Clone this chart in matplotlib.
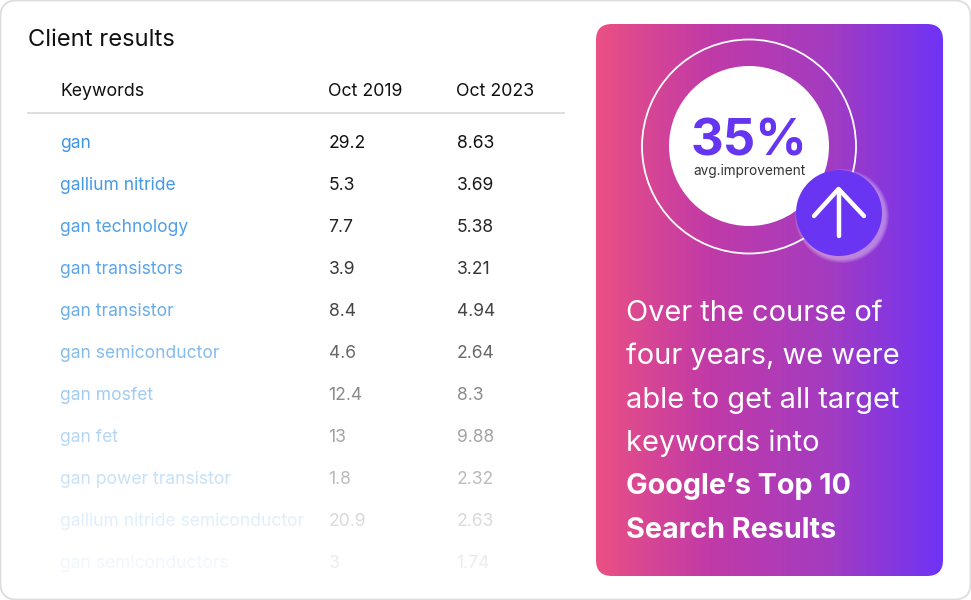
import numpy as np
import matplotlib
matplotlib.use('Agg')
import matplotlib.pyplot as plt
from matplotlib.colors import LinearSegmentedColormap
from matplotlib.patches import Circle, FancyBboxPatch

plt.rcParams['font.family'] = ['Inter', 'DejaVu Sans']

# table data
keywords = ['gan', 'gallium nitride', 'gan technology', 'gan transistors', 'gan transistor',
            'gan semiconductor', 'gan mosfet', 'gan fet', 'gan power transistor',
            'gallium nitride semiconductor', 'gan semiconductors']
oct_2019 = ['29.2', '5.3', '7.7', '3.9', '8.4', '4.6', '12.4', '13', '1.8', '20.9', '3']
oct_2023 = ['8.63', '3.69', '5.38', '3.21', '4.94', '2.64', '8.3', '9.88', '2.32', '2.63', '1.74']
headers = ['Keywords', 'Oct 2019', 'Oct 2023']
percent = '35%'
percent_label = 'avg.improvement'
body_lines = ['Over the course of', 'four years, we were', 'able to get all target', 'keywords into']
bold_lines = ['Google\u2019s Top 10', 'Search Results']

fig = plt.figure(figsize=(9.71, 6), dpi=100)
ax = fig.add_axes([0, 0, 1, 1])
ax.set_xlim(0, 971)
ax.set_ylim(600, 0)
ax.axis('off')

# карточка
card = FancyBboxPatch((16.5, 16.5), 938, 567, boxstyle='round,pad=16,rounding_size=16',
                      fc='white', ec='#dddddd', lw=1.3, zorder=1)
ax.add_patch(card)

ax.text(28.5, 46, 'Client results', fontsize=17.1, color='#111111', va='baseline', zorder=3)
col_x = [60, 328.5, 456.5]
for x, h in zip(col_x, headers):
    ax.text(x, 95.5, h, fontsize=12.8, color='#111111', va='baseline', zorder=3)
ax.plot([28, 564], [113, 113], color='#dcdcdc', lw=1.3, zorder=3)

for i, kw in enumerate(keywords):
    y = 147.5 + 42 * i
    ax.text(col_x[0], y, kw, fontsize=12.6, color='#3f96e6', va='baseline', zorder=3)
    ax.text(col_x[1], y, oct_2019[i], fontsize=12.6, color='#111111', va='baseline', zorder=3)
    ax.text(col_x[2], y, oct_2023[i], fontsize=12.6, color='#111111', va='baseline', zorder=3)

# белый градиент поверх строк таблицы
fade_y = np.arange(125, 580)
fade = np.ones((len(fade_y), 1, 4))
fade[:, 0, 3] = np.interp(fade_y, [160, 310, 394, 478, 520, 562], [0, 0.22, 0.52, 0.72, 0.85, 0.93])
ax.imshow(fade, extent=(20, 575, 580, 125), aspect='auto', zorder=4, interpolation='bilinear')

# панель с градиентом
cmap = LinearSegmentedColormap.from_list('panel', ['#ea5084', '#c03aa8', '#a43cc0', '#6f33f6'])
grad = np.linspace(0, 1, 400).reshape(1, -1)
im = ax.imshow(grad, extent=(596, 943, 576, 24), aspect='auto', cmap=cmap, zorder=5)
panel = FancyBboxPatch((612, 40), 315, 520, boxstyle='round,pad=16,rounding_size=16',
                       fc='none', ec='none', transform=ax.transData)
ax.add_patch(panel)
im.set_clip_path(panel)

ax.add_patch(Circle((749, 146.5), 107, fc='none', ec='white', lw=1.3, zorder=6))
ax.add_patch(Circle((749, 146), 80, fc='white', ec='none', zorder=6))
ax.text(749, 155, percent, fontsize=36.5, fontweight='bold', color='#6535f0', ha='center', va='baseline', zorder=7)
ax.text(750, 175.5, percent_label, fontsize=9.8, color='#333333', ha='center', va='baseline', zorder=7)

# стрелка
for r in np.arange(47, 43, -0.7):
    ax.add_patch(Circle((842, 216), r, fc='white', ec='none', alpha=0.08, zorder=8))
ax.add_patch(Circle((839, 213), 43, fc='#6a35f2', ec='none', zorder=9))
ax.plot([838.5, 838.5], [190, 236], color='white', lw=3.2, solid_capstyle='round', zorder=10)
ax.plot([814, 838.5, 864], [216, 189, 216], color='white', lw=3.2,
        solid_capstyle='round', solid_joinstyle='round', zorder=10)

for i, line in enumerate(body_lines):
    ax.text(626, 321 + 43.4 * i, line, fontsize=20.9, fontweight='normal', color='white', va='baseline', zorder=7)
for i, line in enumerate(bold_lines):
    ax.text(626, 494.5 + 43.4 * i, line, fontsize=20.7, fontweight='bold', color='white', va='baseline', zorder=7)

fig.savefig('out.png', dpi=100)
